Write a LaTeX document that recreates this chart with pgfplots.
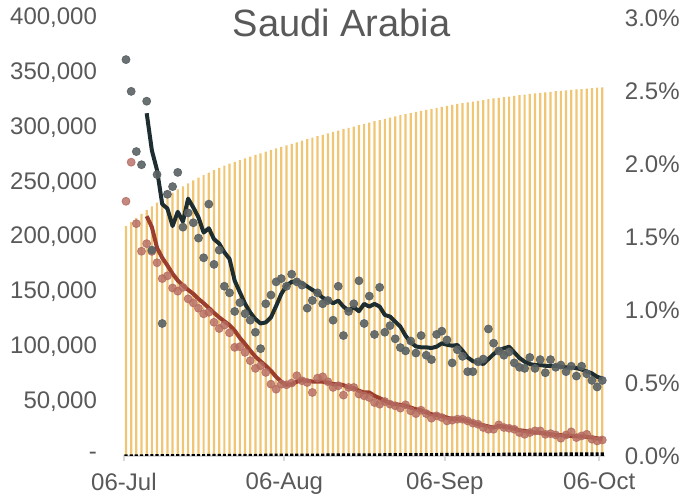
\documentclass[border=0pt]{standalone}
\usepackage{fontspec}
\setmainfont{Liberation Sans}
\usepackage{pgfplots}
\usepackage{pgfplotstable}
\pgfplotsset{compat=1.18}
\definecolor{txt}{HTML}{595959}
\definecolor{cBar}{HTML}{F0C674}
\definecolor{cGray}{HTML}{5A6264}
\definecolor{cDark}{HTML}{1E2D2F}
\definecolor{cRedDot}{HTML}{B46A60}
\definecolor{cRed}{HTML}{9C3E2E}
\definecolor{axgray}{HTML}{D9D9D9}

% d: days since 06-Jul
\pgfplotstableread{
d cum dth g gavg r ravg
0 210000 1500 362000 nan 232600 nan
1 213800 1520 333000 nan 268300 nan
2 217500 1540 278000 nan 212200 nan
3 221100 1560 266000 nan 187000 nan
4 224600 1580 324000 313000 193900 219000
5 228000 1600 188000 279000 186800 209000
6 231300 1620 257000 261000 176500 190000
7 234500 1640 121000 230000 162000 181000
8 237600 1660 239000 226000 164500 174000
9 240600 1680 246000 210000 153400 166400
10 243500 1700 259000 223000 150500 160300
11 246300 1720 209000 214000 154000 155700
12 249000 1740 222000 235000 143500 151700
13 251600 1760 213000 227000 139800 148100
14 254100 1780 199000 218000 134900 143500
15 256500 1800 181000 204000 129800 139500
16 258800 1820 230000 208000 131200 135200
17 261000 1840 175000 198000 122100 130700
18 263100 1860 188000 194000 116400 126600
19 265100 1880 155000 186000 119500 123000
20 266900 1900 149000 180000 112500 119500
21 268600 1920 132000 160000 99200 114500
22 270200 1940 140000 149500 99800 107800
23 271800 1960 130000 139000 94600 102300
24 273400 1980 124000 131000 87000 96200
25 274900 2000 113000 125000 80000 90700
26 276400 2020 98000 121000 82400 86400
27 277900 2040 139000 122000 76300 82400
28 279400 2060 147000 126600 65600 77800
29 280900 2080 159000 137000 61000 72300
30 282300 2100 162000 148000 65600 67800
31 283700 2120 155000 155700 65000 65000
32 285100 2140 166000 159000 66600 65600
33 286500 2160 159000 159600 73300 67800
34 287900 2180 156000 157800 68700 69300
35 289300 2200 135000 154800 67100 68700
36 290700 2220 142000 151700 58000 68000
37 292000 2240 149000 149000 71100 68000
38 293300 2260 139000 144400 72300 67800
39 294600 2280 142000 142600 67800 67100
40 295900 2300 124000 139500 62600 65600
41 297200 2320 155000 141900 64100 65600
42 298500 2340 110000 136400 55600 64700
43 299700 2360 132000 132800 62600 62600
44 300900 2380 139000 135800 62600 62000
45 302100 2400 160000 132200 56500 59500
46 303300 2420 121000 138900 54900 58000
47 304500 2440 146000 136400 53400 58000
48 305700 2460 111000 138900 48800 54900
49 306800 2480 154000 136400 47300 52800
50 307900 2500 113000 128800 49700 50400
51 309000 2520 119000 127300 47300 48200
52 310100 2540 107000 122700 45800 47300
53 311200 2560 99000 118100 43700 46700
54 312200 2580 96000 109900 46700 46000
55 313200 2600 105000 103800 41200 44200
56 314200 2620 94000 100100 38700 42700
57 315200 2640 110000 99200 41800 41800
58 316200 2660 92000 99200 38700 39700
59 317100 2680 88000 98600 34500 38100
60 318000 2700 111000 99800 36600 37500
61 318900 2720 114000 102900 35100 36300
62 319800 2740 106000 101600 32000 35100
63 320700 2760 85000 100700 32700 33600
64 321500 2780 97000 101300 33600 33600
65 322300 2800 91000 96200 33600 33300
66 323000 2820 77000 90000 32000 32000
67 323700 2840 77000 86600 30000 30500
68 324400 2860 86000 85400 29000 29000
69 325100 2880 88500 84000 26000 28100
70 325800 2900 116000 88500 24400 26900
71 326500 2920 103000 93000 24400 26000
72 327100 2940 96000 96800 28400 27500
73 327700 2960 92000 98300 26000 26600
74 328300 2980 95000 99800 25300 26000
75 328900 3000 85000 94600 24400 25000
76 329500 3020 81000 89500 21400 23500
77 330100 3040 80000 86100 19800 22900
78 330600 3060 90000 84000 21400 22000
79 331100 3080 80000 83000 22900 21400
80 331600 3100 88000 83000 22900 21200
81 332100 3120 76000 82400 19800 20400
82 332600 3140 88000 82400 20400 19800
83 333100 3160 81000 82400 19200 19200
84 333500 3180 83000 81500 16200 19000
85 333900 3200 77000 80900 19200 18300
86 334300 3220 82000 80900 22000 18300
87 334700 3240 73000 80300 16800 18000
88 335100 3260 82000 79000 18300 18000
89 335500 3280 75000 77200 19800 17400
90 335900 3300 69000 75400 15300 16800
91 336300 3320 63000 72300 13700 16200
92 336700 3340 69000 70800 14600 15300
}\data

\begin{document}
\begin{tikzpicture}
\begin{axis}[
  scale only axis, width=240.75pt, height=219pt,
  xmin=-0.5, xmax=92.5, ymin=0, ymax=400000,
  axis x line*=bottom, axis y line*=left,
  y axis line style={draw=none},
  x axis line style={axgray, line width=1pt},
  scaled y ticks=false,
  xtick={-0.4,30.6,61.6,91.4},
  xticklabels={06-Jul,06-Aug,06-Sep,06-Oct},
  ytick={0,50000,100000,150000,200000,250000,300000,350000,400000},
  yticklabels={{-},{50,000},{100,000},{150,000},{200,000},{250,000},{300,000},{350,000},{400,000}},
  tick align=outside, major tick length=2.5pt,
  x tick style={axgray, line width=1pt},
  y tick style={draw=none},
  ticklabel style={font=\fontsize{12}{14}\selectfont, text=txt},
  yticklabel style={xshift=-7.2pt},
  xticklabel style={yshift=-2.5pt},
  clip=false,
]
\addplot[ybar, bar width=1.1pt, bar shift=0pt, fill=cBar, draw=none] table[x=d,y=cum]{\data};
\addplot[ybar, bar width=1.6pt, bar shift=0pt, fill=black, draw=none] table[x=d,y=dth]{\data};
\addplot[only marks, mark=*, mark size=2pt, color=cRedDot, opacity=0.8] table[x=d,y=r]{\data};
\addplot[only marks, mark=*, mark size=2pt, color=cGray, opacity=0.9] table[x=d,y=g]{\data};
\addplot[cRed, line width=2pt, line join=round, no marks] table[x=d,y=ravg]{\data};
\addplot[cDark, line width=2pt, line join=round, no marks] table[x=d,y=gavg]{\data};
\node[anchor=base, text=txt, font=\fontsize{19}{22}\selectfont] at (rel axis cs:0.453,0.957) {Saudi Arabia};
\coordinate (bbA) at (rel axis cs:-0.2563,-0.105);
\coordinate (bbB) at (rel axis cs:1.156,1.0411);
\end{axis}
\begin{axis}[
  scale only axis, width=240.75pt, height=219pt,
  xmin=-0.5, xmax=92.5, ymin=0, ymax=0.03,
  axis x line=none, axis y line*=right,
  y axis line style={draw=none},
  scaled y ticks=false,
  ytick={0,0.005,0.01,0.015,0.02,0.025,0.03},
  yticklabels={{0.0\%},{0.5\%},{1.0\%},{1.5\%},{2.0\%},{2.5\%},{3.0\%}},
  tick align=outside, major tick length=2.5pt,
  y tick style={draw=none},
  ticklabel style={font=\fontsize{12}{14}\selectfont, text=txt},
  yticklabel style={xshift=4pt},
]
\end{axis}
\pgfresetboundingbox
\path[use as bounding box] (bbA) rectangle (bbB);
\end{tikzpicture}
\end{document}
